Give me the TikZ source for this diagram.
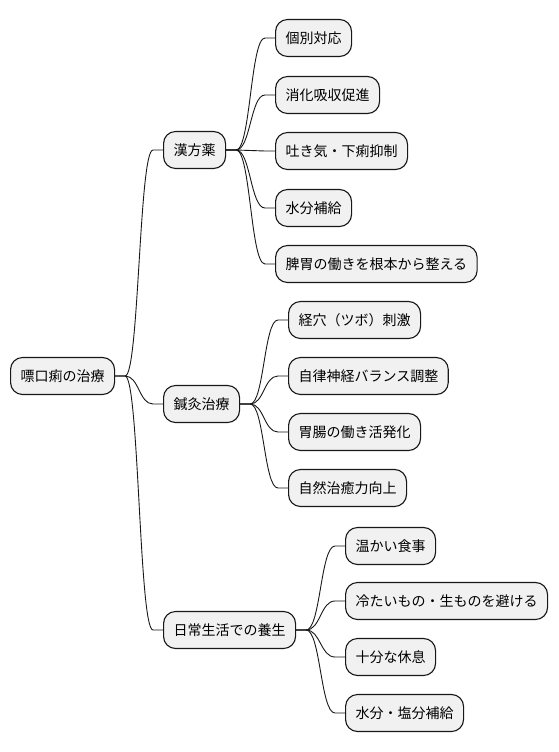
\documentclass[tikz,border=0pt]{standalone}
\usepackage{fontspec}
\newfontfamily\cjk{Noto Sans CJK JP}
\usetikzlibrary{calc}
\definecolor{boxfill}{HTML}{F1F1F1}
\definecolor{boxline}{HTML}{181818}
\tikzset{
  mmbox/.style={draw=boxline, fill=boxfill, line width=1.1pt, rounded corners=12pt,
    anchor=west, minimum height=37pt, inner xsep=10pt, inner ysep=4pt,
    font=\cjk\fontsize{14}{17}\selectfont, text=black},
  link/.style={draw=boxline, line width=0.9pt}
}
\newcommand\mmlink[2]{%
  \draw[link] let \p1=($(#1.east)+(10,0)$), \p2=($(#2.west)+(-10,0)$) in
    (#1.east) -- (\p1) .. controls ({(\x1+\x2)/2},\y1) and ({(\x1+\x2)/2},\y2) .. (\p2) -- (#2.west);}
\begin{document}
\begin{tikzpicture}[x=1pt,y=-1pt]
\useasboundingbox (0,0) rectangle (558,752);
\node[mmbox] (root) at (10,376) {嘌口痢の治療};
\node[mmbox] (k) at (163,150) {漢方薬};
\node[mmbox] (s) at (163,404) {鍼灸治療};
\node[mmbox] (n) at (163,630) {日常生活での養生};
\node[mmbox] (k1) at (275,38) {個別対応};
\node[mmbox] (k2) at (275,95) {消化吸収促進};
\node[mmbox] (k3) at (275,151) {吐き気・下痢抑制};
\node[mmbox] (k4) at (275,208) {水分補給};
\node[mmbox] (k5) at (275,264) {脾胃の働きを根本から整える};
\node[mmbox] (s1) at (288,320) {経穴（ツボ）刺激};
\node[mmbox] (s2) at (288,376) {自律神経バランス調整};
\node[mmbox] (s3) at (288,432) {胃腸の働き活発化};
\node[mmbox] (s4) at (288,488) {自然治癒力向上};
\node[mmbox] (n1) at (345,546) {温かい食事};
\node[mmbox] (n2) at (345,601) {冷たいもの・生ものを避ける};
\node[mmbox] (n3) at (345,657) {十分な休息};
\node[mmbox] (n4) at (345,713) {水分・塩分補給};
\mmlink{root}{k}\mmlink{root}{s}\mmlink{root}{n}
\mmlink{k}{k1}\mmlink{k}{k2}\mmlink{k}{k3}\mmlink{k}{k4}\mmlink{k}{k5}
\mmlink{s}{s1}\mmlink{s}{s2}\mmlink{s}{s3}\mmlink{s}{s4}
\mmlink{n}{n1}\mmlink{n}{n2}\mmlink{n}{n3}\mmlink{n}{n4}
\end{tikzpicture}
\end{document}
